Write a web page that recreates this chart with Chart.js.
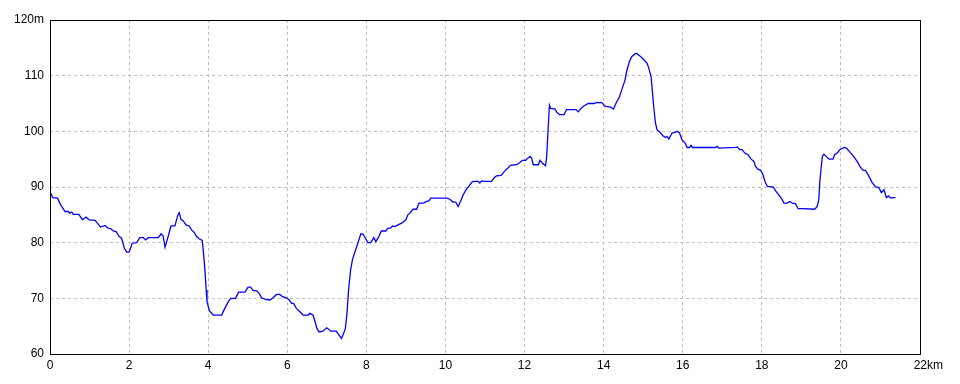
<!DOCTYPE html>
<html>
<head>
<meta charset="utf-8">
<script src="https://cdn.jsdelivr.net/npm/chart.js@4.4.1/dist/chart.umd.min.js"></script>
<style>
  html, body { margin: 0; padding: 0; background: #fff; }
  #wrap { width: 960px; height: 384px; }
</style>
</head>
<body>
<div id="wrap"><canvas id="profile"></canvas></div>
<script>
// distance (km) and elevation (m) read from the profile
const distKm = [
  0, 0.07, 0.19, 0.27, 0.38, 0.46, 0.5, 0.55, 0.59, 0.73, 0.82, 0.91, 0.99, 1.14, 1.28, 1.39, 1.47, 1.54, 1.6, 1.67,
  1.75, 1.81, 1.88, 1.94, 2.0, 2.08, 2.19, 2.27, 2.36, 2.42, 2.48, 2.74, 2.81, 2.86, 2.91, 2.98, 3.06, 3.16, 3.23, 3.27,
  3.31, 3.37, 3.44, 3.52, 3.58, 3.65, 3.71, 3.77, 3.85, 3.89, 3.92, 3.95, 3.97, 4.03, 4.13, 4.34, 4.42, 4.51, 4.57, 4.69,
  4.77, 4.93, 5.01, 5.07, 5.14, 5.22, 5.29, 5.35, 5.45, 5.56, 5.64, 5.73, 5.81, 5.88, 5.98, 6.05, 6.11, 6.16, 6.23, 6.32,
  6.4, 6.53, 6.57, 6.65, 6.69, 6.75, 6.8, 6.84, 6.9, 7.0, 7.1, 7.24, 7.31, 7.37, 7.41, 7.47, 7.51, 7.55, 7.6, 7.65,
  7.7, 7.79, 7.86, 7.92, 7.98, 8.04, 8.11, 8.19, 8.24, 8.3, 8.38, 8.49, 8.55, 8.61, 8.66, 8.72, 8.8, 8.89, 9.0, 9.05,
  9.1, 9.18, 9.27, 9.33, 9.45, 9.52, 9.58, 9.63, 10.03, 10.11, 10.19, 10.26, 10.32, 10.38, 10.45, 10.53, 10.6, 10.66, 10.7, 10.83,
  10.87, 10.91, 10.99, 11.16, 11.25, 11.29, 11.41, 11.5, 11.58, 11.64, 11.8, 11.88, 11.95, 12.03, 12.07, 12.14, 12.18, 12.22, 12.35, 12.39,
  12.46, 12.53, 12.56, 12.59, 12.63, 12.66, 12.77, 12.81, 12.88, 13.0, 13.06, 13.3, 13.36, 13.4, 13.49, 13.61, 13.76, 13.82, 13.91, 13.95,
  14.04, 14.16, 14.25, 14.31, 14.4, 14.46, 14.54, 14.58, 14.65, 14.71, 14.79, 14.84, 14.94, 15.0, 15.1, 15.14, 15.2, 15.24, 15.27, 15.31,
  15.35, 15.43, 15.5, 15.56, 15.6, 15.65, 15.73, 15.8, 15.86, 15.92, 15.98, 16.07, 16.11, 16.17, 16.21, 16.25, 16.83, 16.87, 16.91, 17.33,
  17.38, 17.44, 17.5, 17.57, 17.65, 17.73, 17.8, 17.84, 17.9, 17.97, 18.03, 18.08, 18.14, 18.29, 18.35, 18.43, 18.5, 18.56, 18.64, 18.71,
  18.77, 18.85, 18.92, 19.05, 19.34, 19.4, 19.44, 19.47, 19.53, 19.57, 19.63, 19.7, 19.8, 19.84, 19.92, 19.97, 20.08, 20.14, 20.25, 20.33,
  20.41, 20.48, 20.56, 20.62, 20.71, 20.79, 20.88, 20.96, 21.02, 21.09, 21.15, 21.2, 21.26, 21.32, 21.38
];
const elevM = [
  89.2, 88.1, 88, 86.8, 85.6, 85.6, 85.3, 85.5, 85.1, 85.1, 84.1, 84.6, 84.1, 84, 82.8, 83.1, 82.6, 82.5, 82.1, 82,
  81.1, 80.8, 79, 78.3, 78.3, 79.9, 80, 80.9, 80.9, 80.5, 80.9, 80.9, 81.6, 81.2, 79.2, 80.9, 83, 83, 84.9, 85.4,
  84.2, 83.9, 83.2, 83, 82.3, 81.8, 81.1, 80.7, 80.4, 77.5, 74.8, 71.5, 69.4, 67.8, 67, 67, 68.2, 69.4, 70, 70,
  71.1, 71.1, 72, 72, 71.4, 71.4, 70.9, 70.1, 69.8, 69.7, 70.1, 70.7, 70.7, 70.3, 70.1, 69.7, 69.1, 69.1, 68.2, 67.6,
  67, 67, 67.3, 67, 66.1, 64.6, 64, 64, 64.1, 64.7, 64.1, 64.1, 63.4, 62.8, 63.4, 64.6, 67.3, 71.5, 75, 77,
  78.1, 80, 81.6, 81.5, 80.7, 80, 80, 80.9, 80.2, 80.9, 82.1, 82.1, 82.6, 82.6, 83, 82.9, 83.2, 83.5, 84.1, 85,
  85.3, 86, 86, 87.1, 87.1, 87.4, 87.5, 88, 88, 87.8, 87.3, 87.3, 86.5, 87.4, 88.6, 89.6, 90.2, 90.8, 91, 91,
  90.7, 91.1, 91, 91, 91.8, 92, 92.1, 92.9, 93.4, 93.9, 94, 94.4, 94.8, 94.8, 95.1, 95.5, 95.2, 94, 94, 94.8,
  94.2, 93.8, 95.4, 99.6, 104.7, 104.1, 104, 103.5, 103, 103, 103.9, 103.9, 103.5, 103.9, 104.5, 105, 105, 105.2, 105.1, 105.2,
  104.5, 104.4, 104, 105, 106.2, 107.5, 109.2, 110.7, 112.5, 113.4, 113.9, 114, 113.4, 113, 112.2, 111.4, 109.8, 106.6, 104.2, 101.5,
  100.3, 99.8, 99.2, 98.9, 99.1, 98.6, 99.7, 99.8, 100, 99.7, 98.5, 97.8, 97.1, 97.1, 97.5, 97.1, 97.1, 97.3, 97, 97.1,
  97.2, 96.7, 96.7, 96.1, 95.8, 95, 94.6, 93.7, 93.2, 93, 92.2, 91, 90.1, 90, 89.3, 88.6, 87.9, 87.1, 87.1, 87.4,
  87.1, 87, 86.1, 86.1, 86, 86.5, 87.7, 91.3, 95.5, 95.9, 95.5, 95, 95, 95.8, 96.2, 96.7, 97.1, 97, 96.1, 95.4,
  94.6, 93.7, 93, 93, 91.9, 90.8, 90, 89.9, 89, 89.5, 88.1, 88.4, 88, 88.1, 88.1
];
const xTicks = [0, 2, 4, 6, 8, 10, 12, 14, 16, 18, 20, 22];
const yTicks = [60, 70, 80, 90, 100, 110, 120];

const points = distKm.map((d, i) => ({ x: d, y: elevM[i] }));
const labelFont = { family: "'Liberation Sans Narrow', 'Liberation Sans', sans-serif", size: 12 };

// cadre noir autour de la zone du graphique
const framePlugin = {
  id: 'frame',
  afterDraw(chart) {
    const a = chart.chartArea;
    const ctx = chart.ctx;
    ctx.save();
    ctx.strokeStyle = '#000';
    ctx.lineWidth = 1;
    ctx.strokeRect(Math.round(a.left) + 0.5, Math.round(a.top) + 0.5,
      Math.round(a.right - a.left), Math.round(a.bottom - a.top));
    ctx.restore();
  }
};

new Chart(document.getElementById('profile'), {
  type: 'line',
  data: {
    datasets: [{
      data: points,
      borderColor: '#0000ff',
      borderWidth: 1.3,
      pointRadius: 0,
      tension: 0,
      fill: false
    }]
  },
  options: {
    responsive: true,
    maintainAspectRatio: false,
    animation: false,
    layout: { padding: { left: 0, top: 20, right: 40, bottom: 0 } },
    plugins: { legend: { display: false }, tooltip: { enabled: false } },
    scales: {
      x: {
        type: 'linear',
        min: 0,
        max: 22,
        afterBuildTicks(axis) { axis.ticks = xTicks.map(v => ({ value: v })); },
        afterFit(axis) { axis.height = 30; },
        grid: { color: '#c0c0c0', drawTicks: false, tickLength: 0 },
        border: { display: false, dash: [3, 3] },
        ticks: {
          color: '#000',
          font: labelFont,
          padding: 4,
          maxRotation: 0,
          // le nombre reste centré sur la graduation, l'unité déborde à droite
          callback: v => v === 22 ? '     22km' : String(v)
        }
      },
      y: {
        min: 60,
        max: 120,
        afterBuildTicks(axis) { axis.ticks = yTicks.map(v => ({ value: v })); },
        afterFit(axis) { axis.width = 50; },
        grid: { color: '#c0c0c0', drawTicks: false, tickLength: 0 },
        border: { display: false, dash: [3, 3] },
        ticks: {
          color: '#000',
          font: labelFont,
          padding: 6,
          callback: v => v === 120 ? '120m' : String(v)
        }
      }
    }
  },
  plugins: [framePlugin]
});
</script>
</body>
</html>
